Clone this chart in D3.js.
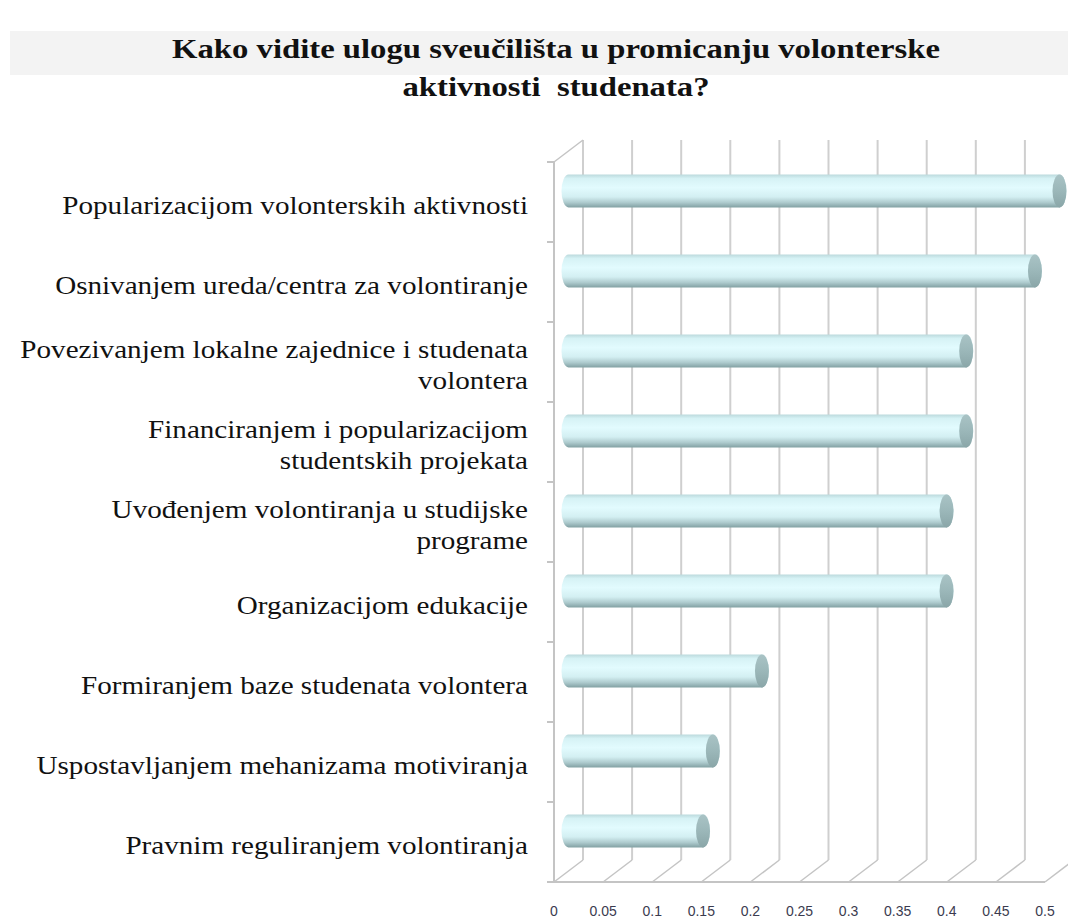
<!DOCTYPE html>
<html>
<head>
<meta charset="utf-8">
<script src="https://cdn.jsdelivr.net/npm/d3@7"></script>
<style>
  body { margin: 0; background: #fff; }
  svg { display: block; }
</style>
</head>
<body>
<div id="chart"></div>
<script>
// data
const titleLines = ["Kako vidite ulogu sveučilišta u promicanju volonterske", "aktivnosti  studenata?"];
const categories = [
  "Popularizacijom volonterskih aktivnosti",
  "Osnivanjem ureda/centra za volontiranje",
  "Povezivanjem lokalne zajednice i studenata\nvolontera",
  "Financiranjem i popularizacijom\nstudentskih projekata",
  "Uvođenjem volontiranja u studijske\nprograme",
  "Organizacijom edukacije",
  "Formiranjem baze studenata volontera",
  "Uspostavljanjem mehanizama motiviranja",
  "Pravnim reguliranjem volontiranja"
];
const values = [0.5, 0.475, 0.405, 0.405, 0.385, 0.385, 0.197, 0.147, 0.137];
const tickValues = [0, 0.05, 0.1, 0.15, 0.2, 0.25, 0.3, 0.35, 0.4, 0.45, 0.5];
const tickLabels = ["0", "0.05", "0.1", "0.15", "0.2", "0.25", "0.3", "0.35", "0.4", "0.45", "0.5"];

const W = 1068, H = 922;
const depth = {dx: 29, dy: -22};

const svg = d3.select('#chart').append('svg')
  .attr('width', W)
  .attr('height', H)
  .attr('viewBox', `0 0 ${W} ${H}`);

const x = d3.scaleLinear().domain([0, 0.5]).range([554, 1045]);
const y = d3.scaleBand().domain(categories).range([162, 882]).padding(0);

// title band
svg.append('rect')
  .attr('x', 10).attr('y', 31)
  .attr('width', W - 10).attr('height', 44)
  .style('fill', '#f3f3f3');

const title = svg.append('g');
titleLines.forEach((t, i) => {
  title.append('g')
    .append('text')
    .attr('text-anchor', 'middle')
    .style('font-family', '"Liberation Serif", serif')
    .style('font-weight', 'bold')
    .style('font-size', '28px')
    .style('fill', '#111')
    .style('white-space', 'pre')
    .text(t);
});
const tk = 768 / title.select('text').node().getComputedTextLength();
title.selectAll('g').attr('transform', (d, i) => `translate(556,${58 + i * 38}) scale(${tk},1)`);

// gradients
const defs = svg.append('defs');
const grad = defs.append('linearGradient')
  .attr('id', 'cyl')
  .attr('x1', 0).attr('y1', 0).attr('x2', 0).attr('y2', 1);
[[0, '#bcdadd'], [0.12, '#d6f2f5'], [0.4, '#e2fbfe'], [0.68, '#d3eff2'], [0.85, '#aecbce'], [1, '#82a1a3']]
  .forEach(s => grad.append('stop').attr('offset', s[0]).attr('stop-color', s[1]));
const capGrad = defs.append('linearGradient')
  .attr('id', 'cap')
  .attr('x1', 0).attr('y1', 0).attr('x2', 0).attr('y2', 1);
[[0, '#a9c3c5'], [0.5, '#9bb7b9'], [1, '#8aa6a8']]
  .forEach(s => capGrad.append('stop').attr('offset', s[0]).attr('stop-color', s[1]));

// back wall grid
const grid = svg.append('g');
const top0 = y.range()[0], bot0 = y.range()[1];
grid.selectAll('line.back')
  .data(tickValues)
  .enter().append('line')
  .attr('x1', d => x(d) + depth.dx).attr('x2', d => x(d) + depth.dx)
  .attr('y1', top0 + depth.dy).attr('y2', bot0 + depth.dy)
  .style('stroke', '#cfcfcf')
  .style('stroke-width', 2);

// floor diagonals
grid.selectAll('line.floor')
  .data(tickValues)
  .enter().append('line')
  .attr('x1', d => x(d)).attr('y1', bot0)
  .attr('x2', d => x(d) + depth.dx).attr('y2', bot0 + depth.dy)
  .style('stroke', '#c4c4c4')
  .style('stroke-width', 1.5);

// left wall
grid.append('line')
  .attr('x1', x(0)).attr('x2', x(0) + depth.dx)
  .attr('y1', top0).attr('y2', top0 + depth.dy)
  .style('stroke', '#c4c4c4').style('stroke-width', 1.5);
grid.append('line')
  .attr('x1', x(0)).attr('x2', x(0))
  .attr('y1', top0).attr('y2', bot0)
  .style('stroke', '#c4c4c4').style('stroke-width', 2);
grid.append('line')
  .attr('x1', x(0)).attr('x2', x(0.5))
  .attr('y1', bot0).attr('y2', bot0)
  .style('stroke', '#c4c4c4').style('stroke-width', 2);

// category ticks
const bandEdges = categories.map(c => y(c)).concat([bot0]);
grid.selectAll('line.ytick')
  .data(bandEdges)
  .enter().append('line')
  .attr('x1', x(0) - 7).attr('x2', x(0))
  .attr('y1', d => d).attr('y2', d => d)
  .style('stroke', '#c4c4c4').style('stroke-width', 2);

// bars (cylinders at mid depth)
const barH = y.bandwidth() * 0.41;
const ry = barH / 2, rx = 7;
const mx = depth.dx / 2, my = depth.dy / 2;
const bars = svg.append('g');
categories.forEach((c, i) => {
  const cy = y(c) + y.bandwidth() / 2 + my;
  const x0 = x(0) + mx, x1 = x(values[i]) + mx;
  bars.append('path')
    .attr('d', `M${x0},${cy - ry} L${x1},${cy - ry} A${rx},${ry} 0 0 1 ${x1},${cy + ry} L${x0},${cy + ry} A${rx},${ry} 0 0 1 ${x0},${cy - ry} Z`)
    .style('fill', 'url(#cyl)');
  bars.append('ellipse')
    .attr('cx', x1).attr('cy', cy)
    .attr('rx', rx).attr('ry', ry)
    .style('fill', 'url(#cap)');
});

// x labels
svg.append('g').selectAll('text')
  .data(tickValues)
  .enter().append('text')
  .attr('x', d => x(d))
  .attr('y', 916)
  .attr('text-anchor', 'middle')
  .style('font-family', '"Liberation Sans", Arial, sans-serif')
  .style('font-size', '14px')
  .style('fill', '#3b3b4f')
  .text((d, i) => tickLabels[i]);

// category labels
const labG = svg.append('g');
const labels = [];
categories.forEach(c => {
  const lines = c.split('\n');
  const cy = y(c) + y.bandwidth() / 2;
  const g = labG.append('g');
  lines.forEach((l, j) => {
    g.append('text')
      .attr('x', 0)
      .attr('y', (j - (lines.length - 1) / 2) * 31)
      .attr('dy', '0.35em')
      .attr('text-anchor', 'end')
      .style('font-family', '"Liberation Serif", serif')
      .style('font-size', '25px')
      .style('fill', '#111')
      .text(l);
  });
  labels.push({g, cy});
});
let maxW = 0;
labG.selectAll('text').each(function() { maxW = Math.max(maxW, this.getComputedTextLength()); });
const lk = 508 / maxW;
labels.forEach(o => o.g.attr('transform', `translate(528,${o.cy + 3}) scale(${lk},1)`));
</script>
</body>
</html>
